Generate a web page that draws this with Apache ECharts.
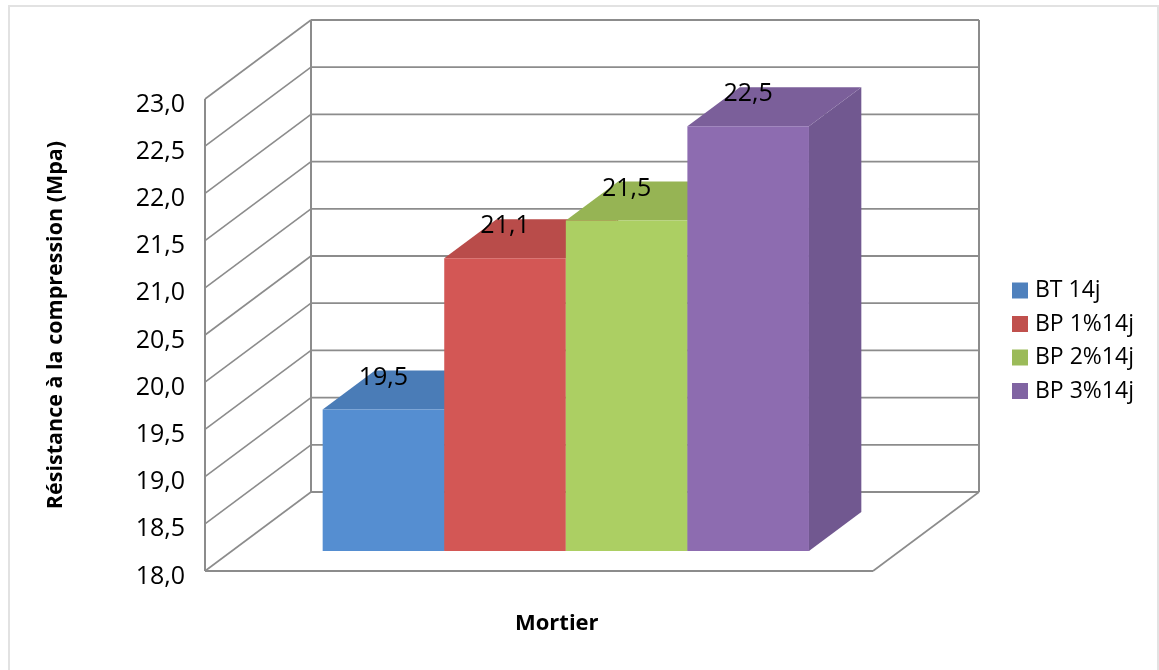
<!DOCTYPE html>
<html>
<head>
<meta charset="utf-8">
<style>html,body{margin:0;padding:0;background:#fff}#chart{width:1159px;height:670px}</style>
<script src="https://cdn.jsdelivr.net/npm/echarts@6/dist/echarts.min.js"></script>
</head>
<body>
<div id="chart"></div>
<script>
// Compressive strength of the mortars after 14 days
const categories = ['Mortier'];
const seriesNames = ['BT 14j', 'BP 1%14j', 'BP 2%14j', 'BP 3%14j'];
const seriesValues = [19.5, 21.1, 21.5, 22.5];
const wallTicks = [18, 18.5, 19, 19.5, 20, 20.5, 21, 21.5, 22, 22.5, 23];

const legendColors = ['#4f81bd', '#c0504d', '#9bbb59', '#8064a2'];
const frontColors = ['#558ed1', '#d35755', '#accf63', '#8d6cb0'];
const topColors = ['#4a7cb7', '#b94c4a', '#96b454', '#7b5f9a'];
const sideColors = ['#3f6a9c', '#9e413f', '#80994a', '#715890'];

// Oblique projection of the depth axis, in pixels
const DEPTH_X = 106;
const DEPTH_Y = -79;
const BAR_NEAR = 0.253;
const BAR_FAR = 0.747;
const BAR_WIDTH = 0.182;
const WALL_COLOR = '#8c8c8c';

const decimalComma = v => v.toFixed(1).replace('.', ',');

function line(x1, y1, x2, y2, width) {
  return {
    type: 'line',
    shape: { x1, y1, x2, y2 },
    style: { stroke: WALL_COLOR, lineWidth: width || 1.5 }
  };
}

// Left wall, back wall and floor of the box
function renderWalls(params, api) {
  const y = api.coord([0, api.value(1)])[1];
  const cs = params.coordSys;
  const left = cs.x;
  const right = cs.x + cs.width;
  const backLeft = left + DEPTH_X;
  const backRight = right + DEPTH_X;
  const children = [
    line(left, y, backLeft, y + DEPTH_Y, 1.6),
    line(backLeft, y + DEPTH_Y, backRight, y + DEPTH_Y, 1.8)
  ];
  if (api.value(1) === wallTicks[0]) {
    const top = cs.y;
    children.push(
      line(left, y, right, y, 2),
      line(right, y, backRight, y + DEPTH_Y, 1.6),
      line(left, top, left, y, 2),
      line(backLeft, top + DEPTH_Y, backLeft, y + DEPTH_Y, 2),
      line(backRight, top + DEPTH_Y, backRight, y + DEPTH_Y, 2)
    );
  }
  return { type: 'group', children };
}

// One extruded column, offset along the category band by its series position
function renderColumn(index) {
  return function (params, api) {
    const value = api.value(1);
    const centre = api.coord([0, value]);
    const base = api.coord([0, wallTicks[0]]);
    const w = api.size([1, 0])[0] * BAR_WIDTH;
    const x0 = centre[0] + (index - 2) * w + BAR_NEAR * DEPTH_X;
    const x1 = x0 + w;
    const yTop = centre[1] + BAR_NEAR * DEPTH_Y;
    const yBase = base[1] + BAR_NEAR * DEPTH_Y;
    const dx = (BAR_FAR - BAR_NEAR) * DEPTH_X;
    const dy = (BAR_FAR - BAR_NEAR) * DEPTH_Y;
    const poly = (points, fill) => ({
      type: 'polygon',
      shape: { points },
      style: { fill, stroke: null }
    });
    return {
      type: 'group',
      children: [
        poly([[x1, yTop], [x1 + dx, yTop + dy], [x1 + dx, yBase + dy], [x1, yBase]], sideColors[index]),
        poly([[x0, yTop], [x0 + dx, yTop + dy], [x1 + dx, yTop + dy], [x1, yTop]], topColors[index]),
        poly([[x0, yTop], [x1, yTop], [x1, yBase], [x0, yBase]], frontColors[index]),
        {
          type: 'text',
          z2: 10,
          style: {
            x: x0 + w / 2,
            y: yTop - 32,
            text: decimalComma(value),
            fill: '#000',
            font: '25px "Open Sans"',
            align: 'center',
            verticalAlign: 'middle'
          }
        }
      ]
    };
  };
}

const chart = echarts.init(document.getElementById('chart'), null, { renderer: 'canvas' });

chart.setOption({
  animation: false,
  backgroundColor: '#fff',
  graphic: [{
    type: 'rect',
    z: -1,
    shape: { x: 9, y: 6, width: 1149, height: 700 },
    style: { fill: '#fff', stroke: '#e2e2e2', lineWidth: 2 }
  }],
  grid: { left: 205, top: 99, width: 668, height: 472 },
  title: {
    text: 'Mortier',
    left: 510,
    top: 608,
    textStyle: { fontFamily: 'Open Sans', fontSize: 22, fontWeight: 'bold', color: '#000' }
  },
  legend: {
    orient: 'vertical',
    left: 1007,
    top: 274,
    itemWidth: 16,
    itemHeight: 16,
    itemGap: 10.5,
    icon: 'rect',
    data: seriesNames,
    textStyle: { fontFamily: 'Open Sans', fontSize: 23, color: '#000', padding: [0, 0, 0, 2] }
  },
  xAxis: {
    type: 'category',
    data: categories,
    axisLine: { show: false },
    axisTick: { show: false },
    axisLabel: { show: false }
  },
  yAxis: {
    type: 'value',
    min: 18,
    max: 23,
    interval: 0.5,
    name: 'Résistance à la compression (Mpa)',
    nameLocation: 'middle',
    nameGap: 138,
    nameRotate: 90,
    nameTextStyle: {
      fontFamily: 'Open Sans',
      fontSize: 21.5,
      fontWeight: 'bold',
      color: '#000',
      padding: [0, 0, 0, 20]
    },
    axisLine: { show: false },
    axisTick: { show: false },
    splitLine: { show: false },
    axisLabel: {
      margin: 20,
      fontFamily: 'Open Sans',
      fontSize: 25,
      color: '#000',
      verticalAlign: 'top',
      lineHeight: 11,
      formatter: decimalComma
    }
  },
  series: [
    {
      type: 'custom',
      name: 'walls',
      silent: true,
      z: 1,
      renderItem: renderWalls,
      encode: { x: 0, y: 1 },
      data: wallTicks.map(v => [0, v])
    },
    ...seriesNames.map((name, i) => ({
      type: 'custom',
      name,
      z: 2,
      itemStyle: { color: legendColors[i] },
      renderItem: renderColumn(i),
      encode: { x: 0, y: 1 },
      data: [[0, seriesValues[i]]]
    }))
  ]
});
</script>
</body>
</html>
